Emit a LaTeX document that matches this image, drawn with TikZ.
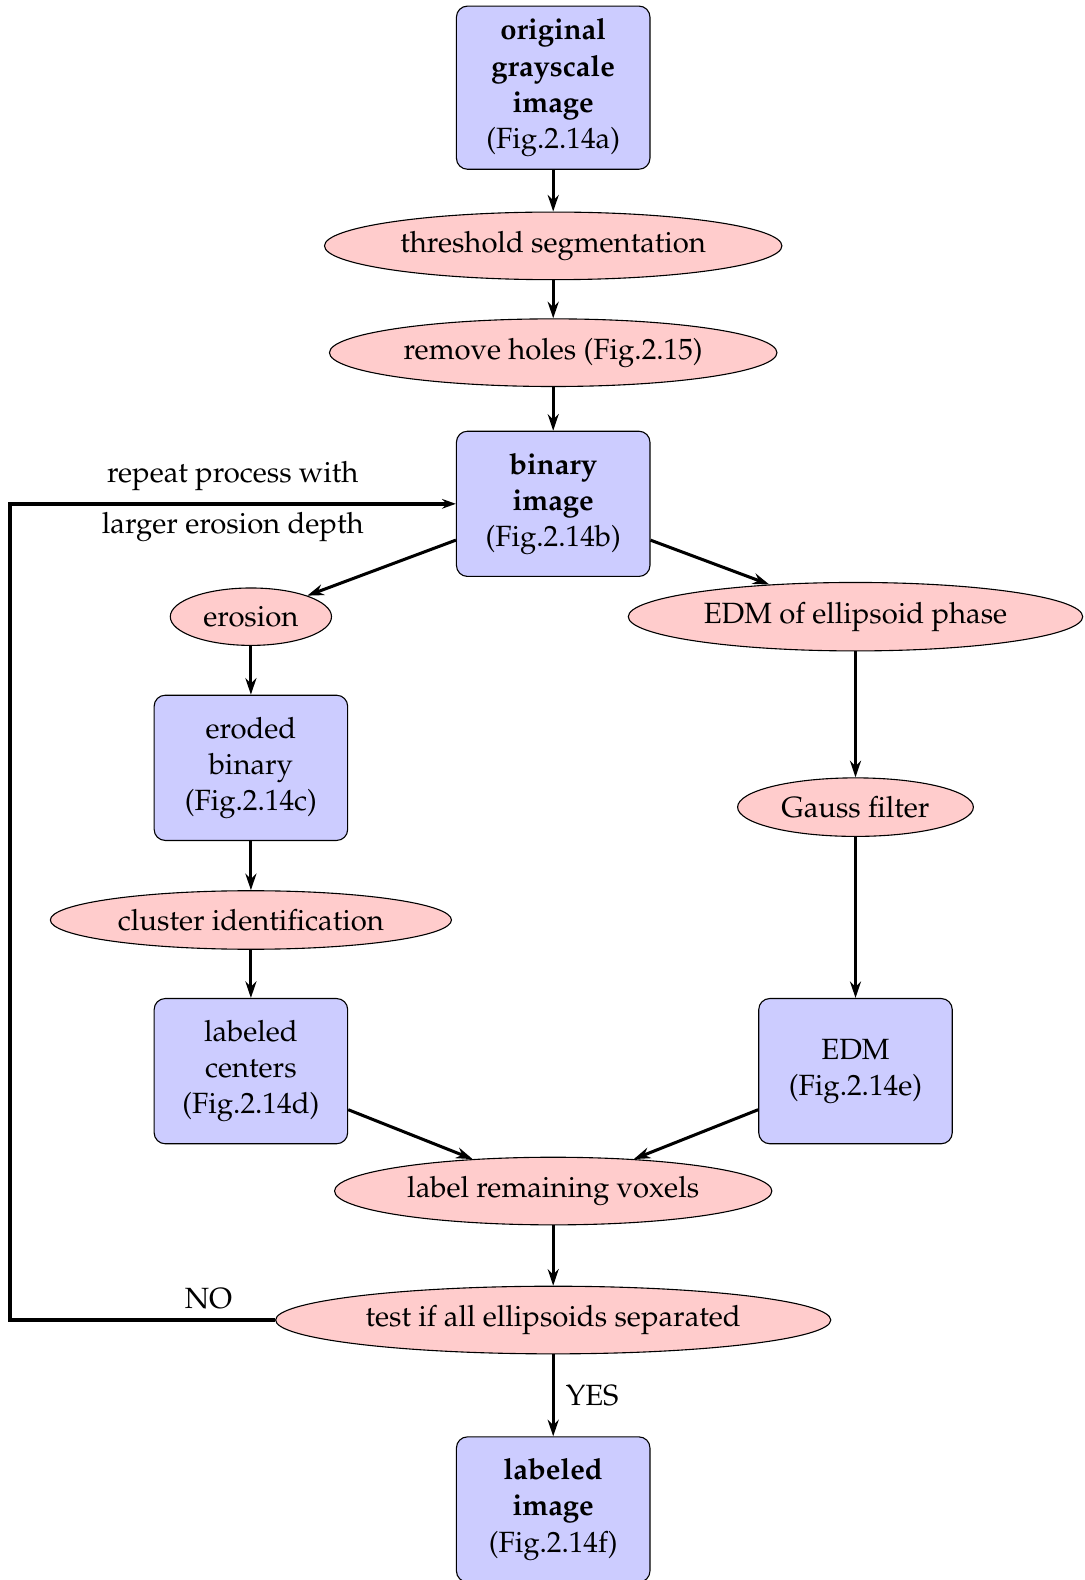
\documentclass[tikz,border=0pt]{standalone}
\usepackage[T1]{fontenc}
\usepackage{mathpazo}
\usepackage{tikz}
\usetikzlibrary{shapes.geometric,arrows.meta}

\tikzset{
  databox/.style={draw, rounded corners=4pt, fill=blue!20, minimum width=70.1pt, minimum height=52.6pt, text width=54pt, align=center, inner sep=0pt},
  procell/.style={draw, ellipse, fill=red!20, inner sep=0pt, minimum height=24.5pt},
  flow/.style={-{Stealth[length=6pt,width=4pt]}, line width=1.1pt},
}

\begin{document}
\begin{tikzpicture}[x=0.365pt,y=0.365pt,yscale=-1,xscale=1,font=\fontsize{10.6}{13.1}\selectfont]
\useasboundingbox (0,0) rectangle (1076,1568);

% Boxes
\node [databox, minimum height=59.1pt] (orig) at (549,87) {\textbf{original grayscale image}\\(Fig.2.14a)};
\node [databox] (binary) at (549,500) {\textbf{binary image}\\(Fig.2.14b)};
\node [databox] (eroded) at (249,762) {eroded binary\\(Fig.2.14c)};
\node [databox] (centers) at (249,1063) {labeled centers\\(Fig.2.14d)};
\node [databox] (edm) at (849,1063) {EDM\\(Fig.2.14e)};
\node [databox] (labeled) at (549,1498) {\textbf{labeled image}\\(Fig.2.14f)};

% Ellipses
\node [procell, minimum width=165.7pt] (thresh) at (549,244) {threshold segmentation};
\node [procell, minimum width=162.1pt] (holes) at (549,350) {remove holes (Fig.2.15)};
\node [procell, minimum width=58.4pt, minimum height=20.8pt] (erosion) at (249,612) {erosion};
\node [procell, minimum width=164.6pt, minimum height=24.8pt] (edmphase) at (849,612) {EDM of ellipsoid phase};
\node [procell, minimum width=85.4pt, minimum height=21.2pt] (gauss) at (849,801) {Gauss filter};
\node [procell, minimum width=145.3pt, minimum height=21.2pt] (cluster) at (249,913) {cluster identification};
\node [procell, minimum width=158.4pt] (remaining) at (549,1182) {label remaining voxels};
\node [procell, minimum width=201.1pt] (test) at (549,1310) {test if all ellipsoids separated};

% Connectors
\draw [flow] (orig) -- (thresh);
\draw [flow] (thresh) -- (holes);
\draw [flow] (holes) -- (binary);
\draw [flow] (binary) -- (erosion);
\draw [flow] (binary) -- (edmphase);
\draw [flow] (erosion) -- (eroded);
\draw [flow] (eroded) -- (cluster);
\draw [flow] (cluster) -- (centers);
\draw [flow] (edmphase) -- (gauss);
\draw [flow] (gauss) -- (edm);
\draw [flow] (centers) -- (remaining);
\draw [flow] (edm) -- (remaining);
\draw [flow] (remaining) -- (test);
\draw [flow] (test) -- node [right, inner sep=4pt] (yes) {YES} (labeled);

% Loop back
\coordinate (loopcorner) at (10,1310);
\draw [-{Stealth[length=5pt,width=3.5pt]}, line width=1.5pt] (test.west) -- (loopcorner) |- (binary.west);

% Text Node
\node (no) at (207,1289) {NO};
% Text Node
\node (repeat) at (231,472) {repeat process with};
% Text Node
\node (larger) at (231,523) {larger erosion depth};

\end{tikzpicture}
\end{document}
